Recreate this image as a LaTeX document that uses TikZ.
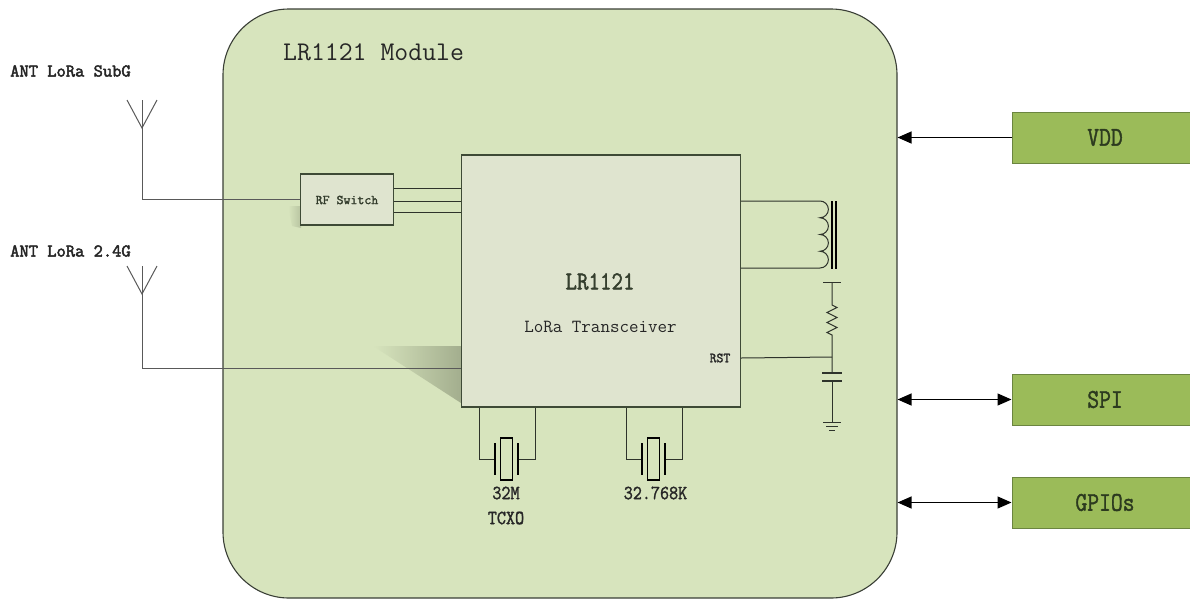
\documentclass[tikz,border=0pt]{standalone}
\usepackage{fontspec}
\usetikzlibrary{arrows.meta}
\newfontfamily\mb{Latin Modern Mono}[FakeBold=1.6]
\newfontfamily\mbb{Latin Modern Mono}[FakeBold=2.6]
\definecolor{modfill}{HTML}{D7E4BD}
\definecolor{modline}{HTML}{3A3F36}
\definecolor{chipfill}{HTML}{DFE4CF}
\definecolor{chipline}{HTML}{3E4A36}
\definecolor{wirec}{HTML}{2E332B}
\definecolor{boxfill}{HTML}{9BBB59}
\definecolor{boxline}{HTML}{6B8540}
\definecolor{boxtext}{HTML}{2C3A1F}
\definecolor{shadowc}{HTML}{A3AE8E}
\newcommand{\cond}[2][0.86]{\scalebox{#1}[1]{#2}}
\newcommand{\fs}[1]{\fontsize{#1}{#1}\selectfont}
\begin{document}
\begin{tikzpicture}[x=1pt,y=-1pt,
  wire/.style={draw=wirec, line width=1pt},
  chipbox/.style={draw=chipline, fill=chipfill, line width=1.1pt, inner sep=0pt},
  iobox/.style={draw=boxline, fill=boxfill, line width=1pt, minimum width=186pt, minimum height=51pt, inner sep=0pt, text=boxtext, font=\mb\fs{27}},
  arr/.style={draw=black, line width=1.2pt, >={Triangle[length=14pt,width=12pt]}},
  lbl/.style={inner sep=0pt, text=black!85, font=\ttfamily}
]
\useasboundingbox (0,0) rectangle (1190,600);
\clip (0,0) rectangle (1190,600);

% module
\node[draw=modline, fill=modfill, line width=1.1pt, rounded corners=66pt,
      minimum width=674pt, minimum height=589pt, inner sep=0pt] (module) at (560,303.5) {};
\node[lbl, anchor=west, font=\ttfamily\fs{27}] (title) at (283,52.5) {LR1121 Module};

% shadows
\shade[left color=modfill, right color=shadowc] (373,346) -- (461,346) -- (461,403) -- cycle;
\shade[left color=modfill, right color=shadowc!60!modfill] (288,206) -- (301,206) -- (301,228) -- (292,226) -- cycle;

% chip
\node[chipbox, minimum width=279pt, minimum height=252pt] (chip) at (601,281) {};
\node[lbl, font=\mb\fs{26}, text=chipline!85!black] (chipname) at (600,281.5) {\cond{LR1121}};
\node[lbl, font=\ttfamily\fs{18.5}] (chipdesc) at (600.5,326.5) {LoRa Transceiver};
\node[lbl, font=\mb\fs{14}] (rst) at (720,358) {\cond[0.95]{RST}};

% RF switch
\node[chipbox, minimum width=93pt, minimum height=51pt] (rfsw) at (347,199.5) {};
\node[lbl, font=\mb\fs{13.5}, text=chipline!80!black] (rfswt) at (347,200) {RF Switch};
\draw[wire] (rfsw.east |- 0,188) -- (chip.west |- 0,188);
\draw[wire] (rfsw.east |- 0,201) -- (chip.west |- 0,201);
\draw[wire] (rfsw.east |- 0,212) -- (chip.west |- 0,212);

% antennas
\node[lbl, anchor=west, font=\mbb\fs{18}] (ant1) at (10,71) {ANT LoRa SubG};
\node[lbl, anchor=west, font=\mbb\fs{18}] (ant2) at (10,251) {ANT LoRa 2.4G};
\coordinate (a1) at (142,100);
\coordinate (a1v) at (142,128);
\coordinate (a2) at (142,266);
\coordinate (a2v) at (142,294);
\draw[wire, draw=black!65] (127,100) -- (a1v) -- (157,100);
\draw[wire, draw=black!65] (127,266) -- (a2v) -- (157,266);
\draw[wire, draw=black!65] (a1) |- (rfsw.west);
\draw[wire, draw=black!65] (a2) |- (chip.west |- 0,368);

% inductor
\draw[wire] (chip.east |- 0,201) -- (820,201)
  arc(-90:90:8.375) arc(-90:90:8.375) arc(-90:90:8.375) arc(-90:90:8.375)
  -- (chip.east |- 0,268);
\draw[black, line width=2pt] (831.5,201) -- (831.5,269);
\draw[black, line width=2pt] (835.5,201) -- (835.5,269);

% resistor, capacitor, ground
\coordinate (rtop) at (832,282);
\coordinate (junc) at (832,357);
\draw[wire] (823,282) -- (841,282);
\draw[wire] (rtop) -- (832,305) -- (837,307.5) -- (827,312.5) -- (837,317.5) -- (827,322.5)
  -- (837,327.5) -- (827,332.5) -- (832,335) -- (junc) -- (832,373);
\draw[wire] (rst.east -| chip.east) -- (junc);
\draw[wire, line width=1.4pt] (822,373) -- (842,373);
\draw[wire, line width=1.4pt] (822,381) -- (842,381);
\draw[wire] (832,381) -- (832,422);
\draw[wire] (823,422) -- (841,422);
\draw[wire] (826,426) -- (838,426);
\draw[wire] (829,430) -- (835,430);

% crystal 32M
\draw[wire] (chip.south -| 479,0) -- (479,459) -- (495,459);
\draw[wire] (chip.south -| 535,0) -- (535,459) -- (518,459);
\draw[black, line width=1.6pt] (495,443) -- (495,475);
\draw[black, line width=1.6pt] (518,443) -- (518,475);
\draw[black, line width=1.5pt] (500.5,438) rectangle (512.5,480);
\node[lbl, font=\mb\fs{20}] (x1a) at (506,493) {\cond[0.88]{32M}};
\node[lbl, font=\mb\fs{20}] (x1b) at (506,518) {\cond[0.88]{TCXO}};

% crystal 32.768K
\draw[wire] (chip.south -| 626,0) -- (626,459) -- (642,459);
\draw[wire] (chip.south -| 682,0) -- (682,459) -- (665,459);
\draw[black, line width=1.6pt] (642,443) -- (642,475);
\draw[black, line width=1.6pt] (665,443) -- (665,475);
\draw[black, line width=1.5pt] (647.5,438) rectangle (659.5,480);
\node[lbl, font=\mb\fs{20}] (x2a) at (655.5,493) {\cond[0.88]{32.768K}};

% IO boxes
\node[iobox] (vdd) at (1105,137.5) {\cond[0.85]{VDD}};
\node[iobox] (spi) at (1105,399.5) {\cond[0.85]{SPI}};
\node[iobox] (gpio) at (1105,502.5) {\cond[0.85]{GPIOs}};
\draw[arr, ->] (vdd.west) -- (vdd.west -| module.east);
\draw[arr, <->] (spi.west -| module.east) -- (spi.west);
\draw[arr, <->] (gpio.west -| module.east) -- (gpio.west);
\end{tikzpicture}
\end{document}
